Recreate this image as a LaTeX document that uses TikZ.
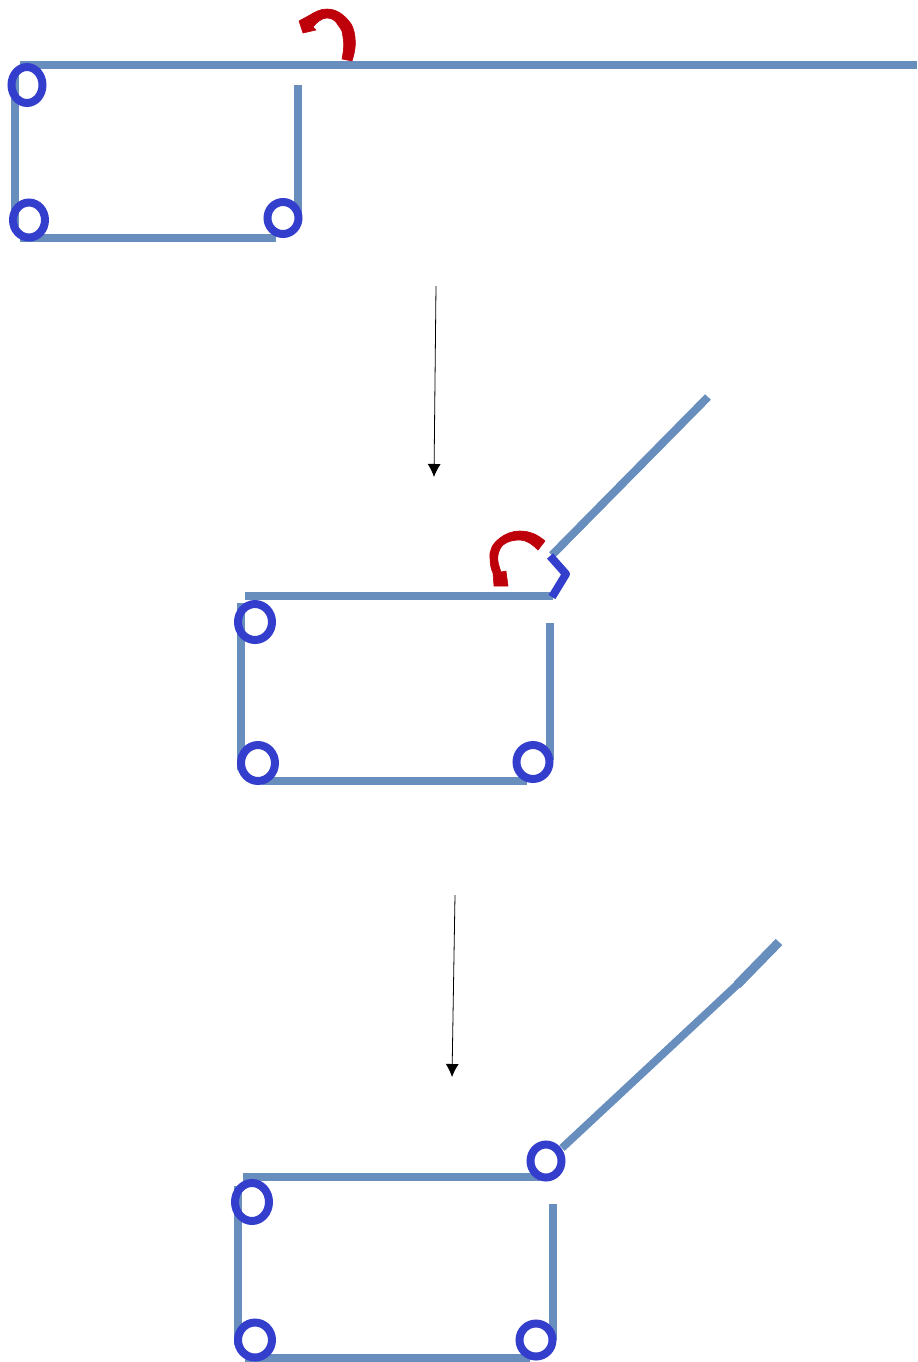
\documentclass[tikz,border=0pt]{standalone}
\usetikzlibrary{arrows.meta}
\definecolor{barblue}{RGB}{104,142,190}
\definecolor{ringblue}{RGB}{52,62,205}
\definecolor{curvered}{RGB}{190,0,10}
\tikzset{
  bar/.style={draw=barblue,line width=3.6pt},
  ring/.style={draw=ringblue,line width=4pt},
  curve/.style={fill=curvered,draw=curvered,line width=0.3pt,line join=round},
  flow/.style={draw=black,line width=0.4pt,-{Latex[length=6.5pt,width=6.5pt]}}
}
\begin{document}
\begin{tikzpicture}[x=0.5pt,y=-0.5pt]
\useasboundingbox (0,0) rectangle (917,1362);
% panel 1
\draw[bar] (20,65) -- (917,65);
\draw[bar] (15,72) -- (15,226);
\draw[bar] (298,85) -- (298,216);
\draw[bar] (20,238) -- (276,238);
\draw[ring] (27,85) ellipse (15.5 and 18);
\draw[ring] (29,220) ellipse (16 and 17.5);
\draw[ring] (283,218) ellipse (15.5 and 16);
\draw[curve] (352,61) .. controls (355,52) and (356,44) .. (355,37)
  .. controls (354,29) and (352,24) .. (348,20)
  .. controls (342,13) and (335,9) .. (327,9)
  .. controls (320,9) and (315,12) .. (310,15)
  -- (299,21) -- (303,33) -- (316,30) -- (313,27)
  .. controls (317,22) and (322,18) .. (327,18)
  .. controls (332,18) and (336,21) .. (338,25)
  .. controls (342,30) and (343,33) .. (343,37)
  .. controls (344,43) and (344,49) .. (342,59) -- cycle;
% arrow 1
\coordinate (a1s) at (436,286);
\coordinate (a1e) at (434,477);
\draw[flow] (a1s) -- (a1e);
% panel 2
\draw[bar] (245,596) -- (553,596);
\draw[bar] (241,603) -- (241,770);
\draw[bar] (550,623) -- (550,760);
\draw[bar] (262,781) -- (527,781);
\draw[bar,line width=4pt] (552,555) -- (708,397);
\draw[ring,line join=round] (550,556) -- (566,574) -- (552,597);
\draw[ring] (255,622) ellipse (17 and 18);
\draw[ring] (258,763) ellipse (17 and 18);
\draw[ring] (533,762) ellipse (16.5 and 17);
\draw[curve] (545,541) .. controls (537,534) and (529,531) .. (520,531)
  .. controls (512,531) and (505,534) .. (500,538)
  .. controls (493,543) and (489,550) .. (490,558)
  .. controls (490,564) and (491,569) .. (493,573)
  -- (494,586) -- (508,586) -- (506,571) -- (501,572)
  .. controls (499,566) and (497,561) .. (498,555)
  .. controls (499,551) and (500,548) .. (503,545)
  .. controls (508,541) and (514,540) .. (520,540)
  .. controls (526,540) and (532,544) .. (538,550) -- cycle;
% arrow 2
\coordinate (a2s) at (455,895);
\coordinate (a2e) at (452,1077);
\draw[flow] (a2s) -- (a2e);
% panel 3
\draw[bar] (243,1177) -- (540,1177);
\draw[bar] (238,1186) -- (238,1345);
\draw[bar] (553,1204) -- (553,1340);
\draw[bar] (245,1358) -- (530,1358);
\draw[bar,line width=3.9pt] (562,1148) -- (739,983);
\draw[bar,line width=4.5pt] (737,985) -- (779,942);
\draw[ring] (252,1202) ellipse (17 and 19);
\draw[ring] (255,1340) ellipse (17 and 17.5);
\draw[ring] (536,1340) ellipse (16.5 and 16.5);
\draw[ring] (546,1161) ellipse (15.5 and 16.5);
\end{tikzpicture}
\end{document}
